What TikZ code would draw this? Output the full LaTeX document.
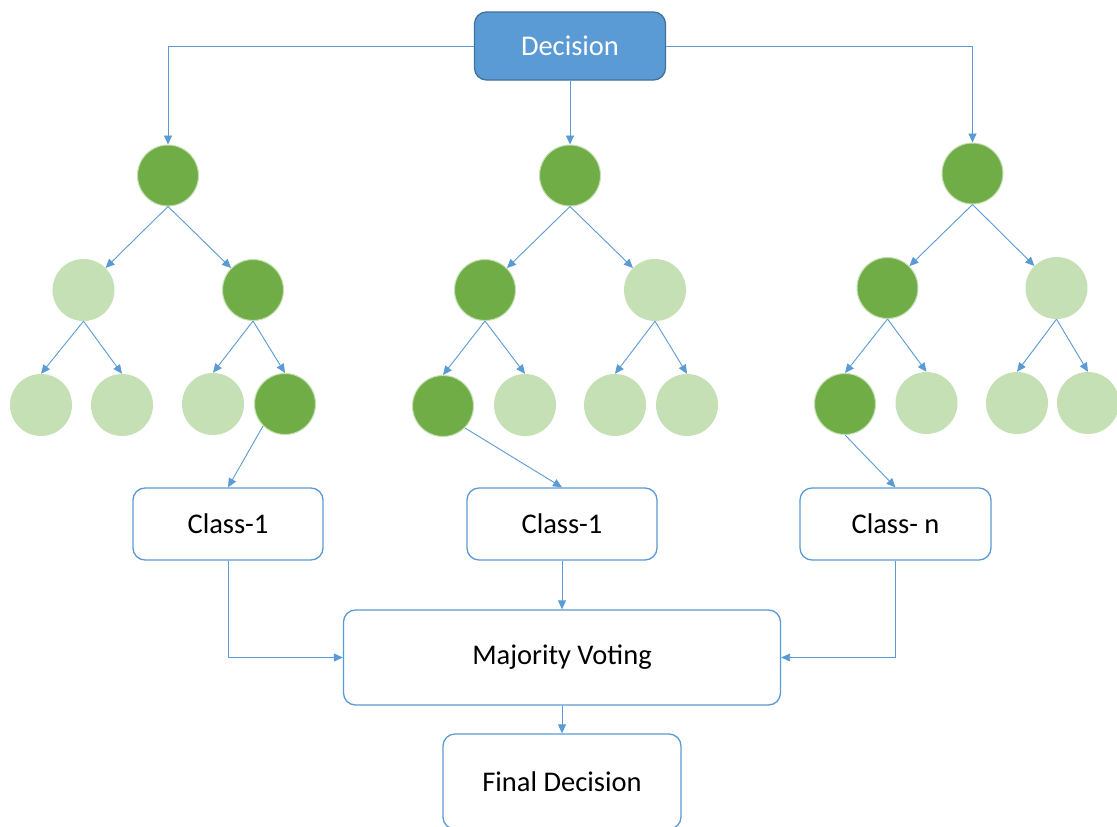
\documentclass[tikz,border=0pt]{standalone}
\usepackage{fontspec}
\setmainfont{Carlito}
\usetikzlibrary{arrows.meta}
\definecolor{cblue}{HTML}{5B9BD5}
\definecolor{cblueD}{HTML}{41719C}
\definecolor{gdark}{HTML}{70AD47}
\definecolor{glight}{HTML}{C5E0B4}
\begin{document}
\begin{tikzpicture}[x=1pt,y=-1pt,
 dk/.style={circle,fill=gdark,draw=glight,line width=1pt,minimum size=61pt,inner sep=0pt},
 lt/.style={circle,fill=glight,minimum size=62pt,inner sep=0pt},
 box/.style={draw=cblue,line width=1.3pt,rounded corners=12pt,fill=white,font=\fontsize{28.5}{34}\selectfont,inner sep=0pt},
 conn/.style={draw=cblue,line width=0.9pt,-{Triangle[length=9pt,width=8pt]}}]
\clip (0,0) rectangle (1117,827);
\fill[white] (0,0) rectangle (1117,827);
% top
\node[box,minimum width=191pt,minimum height=68pt,fill=cblue,draw=cblueD,text=white] (dec) at (570,46) {Decision};
% tree 1
\node[dk] (r1) at (168,175.5) {};
\node[lt] (a1) at (83.5,290) {};
\node[dk] (b1) at (253,290) {};
\node[lt] (a1l) at (41,405) {};
\node[lt] (a1r) at (122,405) {};
\node[lt] (b1l) at (213,404) {};
\node[dk] (b1r) at (285,404) {};
% tree 2
\node[dk] (r2) at (570,175.5) {};
\node[dk] (a2) at (485,290) {};
\node[lt] (b2) at (655,290) {};
\node[dk] (a2l) at (443,406) {};
\node[lt] (a2r) at (525,405) {};
\node[lt] (b2l) at (615,405) {};
\node[lt] (b2r) at (687,405) {};
% tree 3
\node[dk] (r3) at (972.5,173.5) {};
\node[dk] (a3) at (887.5,288) {};
\node[lt] (b3) at (1056.5,288) {};
\node[dk] (a3l) at (845,404) {};
\node[lt] (a3r) at (926.5,403) {};
\node[lt] (b3l) at (1017,403) {};
\node[lt] (b3r) at (1088,403) {};
% class boxes
\node[box,minimum width=190pt,minimum height=72pt] (c1) at (228,524) {Class-1};
\node[box,minimum width=190pt,minimum height=72pt] (c2) at (562,524) {Class-1};
\node[box,minimum width=191pt,minimum height=72pt] (c3) at (895.5,524) {Class- n};
\node[box,minimum width=437pt,minimum height=95pt] (maj) at (562,657.5) {Majority Voting};
\node[box,minimum width=238pt,minimum height=95pt] (fin) at (562,781.5) {Final Decision};
% connectors from decision
\draw[conn] (dec.west) -| (r1.north);
\draw[conn] (dec.east) -| (r3.north);
\draw[conn] (dec.south) -- (r2.north);
% tree edges
\foreach \t in {1,2,3}{
  \draw[conn] (r\t.south) -- (a\t.north east);
  \draw[conn] (r\t.south) -- (b\t.north west);
  \draw[conn] (a\t.south) -- (a\t l.north);
  \draw[conn] (a\t.south) -- (a\t r.north);
  \draw[conn] (b\t.south) -- (b\t l.north);
  \draw[conn] (b\t.south) -- (b\t r.north);
}
% to classes
\draw[conn] (b1r.south west) -- (c1.north);
\draw[conn] (a2l.south east) -- (c2.north);
\draw[conn] (a3l.south) -- (c3.north);
% to majority
\draw[conn] (c1.south) |- (maj.west);
\draw[conn] (c2.south) -- (maj.north);
\draw[conn] (c3.south) |- (maj.east);
\draw[conn] (maj.south) -- (fin.north);
\end{tikzpicture}
\end{document}
